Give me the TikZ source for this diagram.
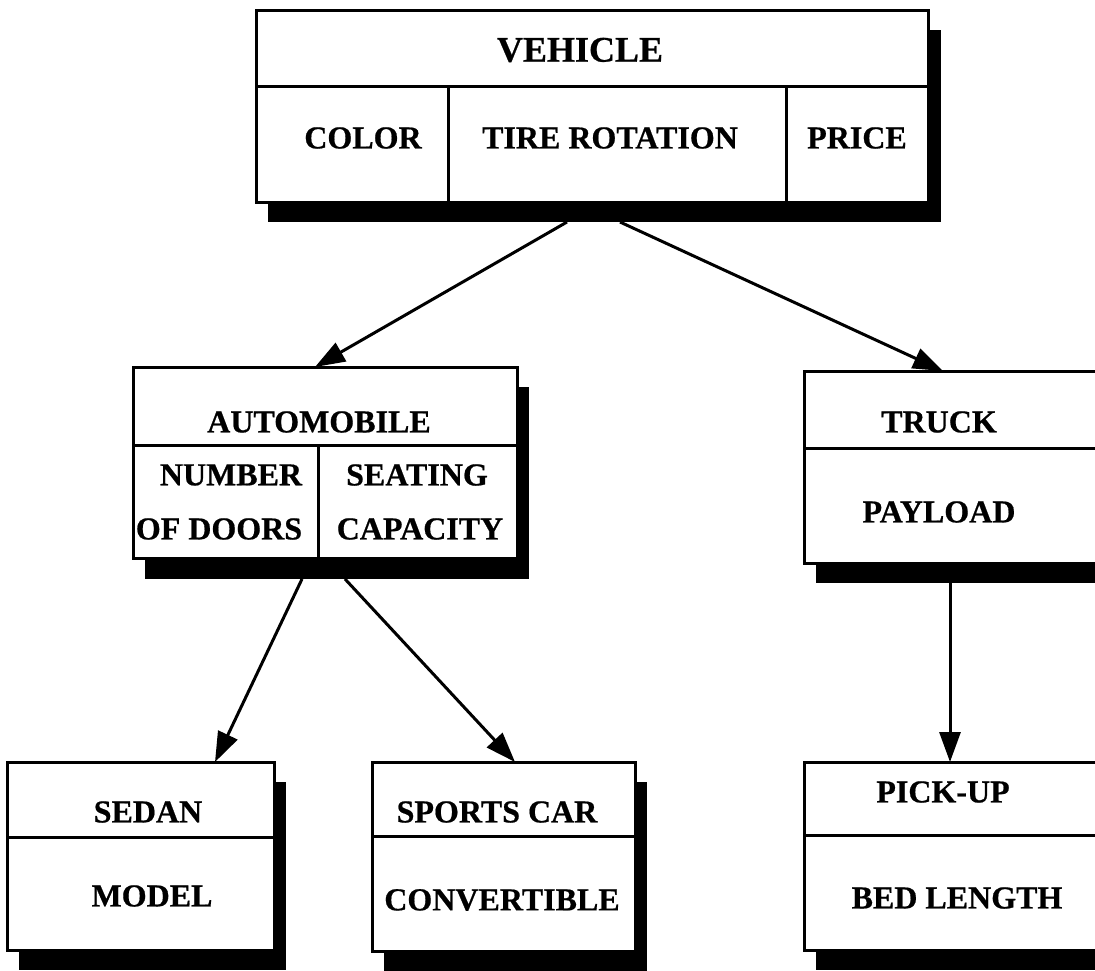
\documentclass[tikz,border=0pt]{standalone}
\usepackage{fontspec}
\setmainfont{Liberation Serif}[BoldFeatures={FakeBold=0.6}]
\usetikzlibrary{arrows.meta,calc}
\begin{document}
\begin{tikzpicture}[x=1pt,y=-1pt,
  cls/.style={draw, line width=3pt, fill=white, inner sep=0pt, outer sep=0pt, rectangle},
  shadowbox/.style={fill=black},
  divline/.style={line width=3pt},
  lbl/.style={inner sep=0pt, font=\bfseries\fontsize{32}{32}\selectfont},
  biglbl/.style={inner sep=0pt, font=\bfseries\fontsize{36}{36}\selectfont},
  link/.style={line width=3pt, -{Triangle[length=30pt,width=21pt]}},
]
\useasboundingbox (0,0) rectangle (1095,970);
\clip (0,0) rectangle (1095,970);

% shadows
\fill[shadowbox] (268,30) rectangle (941,222);
\fill[shadowbox] (145,387) rectangle (529,579);
\fill[shadowbox] (816,391) rectangle (1117,583);
\fill[shadowbox] (19,782) rectangle (286,970);
\fill[shadowbox] (384,782) rectangle (647,971);
\fill[shadowbox] (816,782) rectangle (1117,970);

% class boxes
\node[cls, minimum width=672pt, minimum height=192pt] (veh) at (592,106) {};
\node[cls, minimum width=384pt, minimum height=191pt] (auto) at (325,462.5) {};
\node[cls, minimum width=301pt, minimum height=192pt] (truck) at (954.5,467) {};
\node[cls, minimum width=267pt, minimum height=188pt] (sedan) at (140.5,856) {};
\node[cls, minimum width=263pt, minimum height=189pt] (sports) at (503.5,856.5) {};
\node[cls, minimum width=301pt, minimum height=188pt] (pickup) at (954.5,856) {};

% compartments
\draw[divline] (256,86) -- (928,86);
\draw[divline] (448,86) -- (448,202);
\draw[divline] (786,86) -- (786,202);
\draw[divline] (133,445) -- (517,445);
\draw[divline] (318,445) -- (318,558);
\draw[divline] (804,448) -- (1105,448);
\draw[divline] (7,837) -- (274,837);
\draw[divline] (372,836) -- (635,836);
\draw[divline] (804,835) -- (1105,835);

% labels
\node[biglbl] (lveh) at (580,50) {VEHICLE};
\node[lbl] (lcolor) at (363,138) {COLOR};
\node[lbl] (ltire) at (610,138) {TIRE ROTATION};
\node[lbl] (lprice) at (857,138) {PRICE};
\node[lbl] (lauto) at (319,422) {AUTOMOBILE};
\node[lbl] (lnum) at (231,475) {NUMBER};
\node[lbl] (ldoors) at (219,529) {OF DOORS};
\node[lbl] (lseat) at (417,475) {SEATING};
\node[lbl] (lcap) at (420,529) {CAPACITY};
\node[lbl] (ltruck) at (939,422) {TRUCK};
\node[lbl] (lpay) at (939,512) {PAYLOAD};
\node[lbl] (lsedan) at (148,812) {SEDAN};
\node[lbl] (lmodel) at (152,896) {MODEL};
\node[lbl] (lsports) at (497,812) {SPORTS CAR};
\node[lbl] (lconv) at (502,900) {CONVERTIBLE};
\node[lbl] (lpick) at (943,792) {PICK-UP};
\node[lbl] (lbed) at (957,898) {BED LENGTH};

% connectors
\draw[link] ($(veh.south)+(-25,20)$) -- ($(auto.north)+(-10,0)$);
\draw[link] ($(veh.south)+(28,20)$) -- ($(truck.north west)+(139,0)$);
\draw[link] ($(auto.south)+(-23,21)$) -- ($(sedan.north)+(74.5,0)$);
\draw[link] ($(auto.south)+(20,21)$) -- ($(sports.north)+(11.5,0)$);
\draw[link] ($(truck.south)+(-4.5,20)$) -- ($(pickup.north)+(-4.5,0)$);
\end{tikzpicture}
\end{document}
